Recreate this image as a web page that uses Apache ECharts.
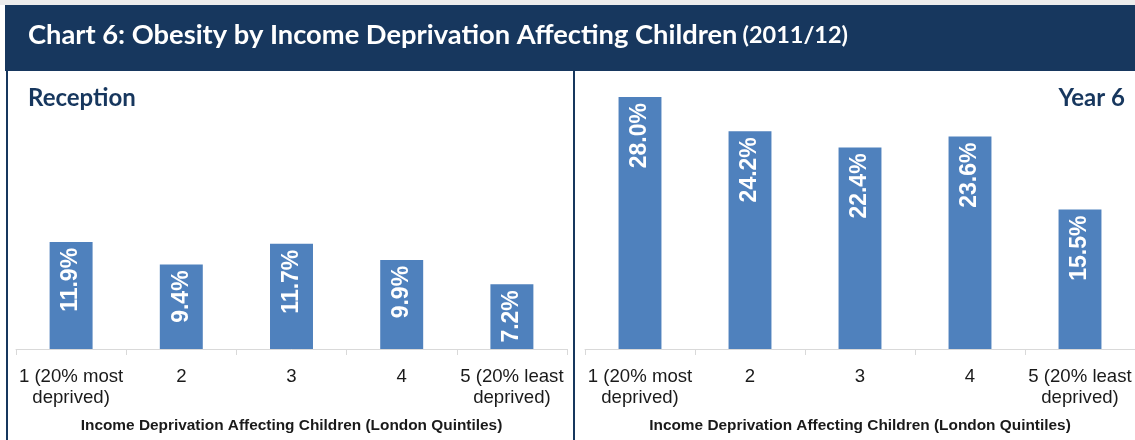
<!DOCTYPE html>
<html>
<head>
<meta charset="utf-8">
<script src="https://cdn.jsdelivr.net/npm/echarts@6/dist/echarts.min.js"></script>
<style>
  html, body { margin: 0; padding: 0; background: #ffffff; }
  #chart { width: 1135px; height: 440px; }
</style>
</head>
<body>
<div id="chart"></div>
<script>
// Income deprivation quintiles (London) and obesity prevalence, 2011/12
const quintiles = ['1 (20% most\ndeprived)', '2', '3', '4', '5 (20% least\ndeprived)'];
const receptionObesity = [11.9, 9.4, 11.7, 9.9, 7.2];
const year6Obesity = [28.0, 24.2, 22.4, 23.6, 15.5];

const chartTitle = 'Chart 6: Obesity by Income Deprivation Affecting Children';
const chartPeriod = '(2011/12)';
const panelNames = ['Reception', 'Year 6'];
const axisTitle = 'Income Deprivation Affecting Children (London Quintiles)';

const NAVY = '#17375E';
const BAR = '#4F81BD';
const AXIS = '#d9d9d9';
const SANS = 'Liberation Sans, Arial, sans-serif';

function xAxisFor(gridIndex) {
  return {
    type: 'category',
    gridIndex: gridIndex,
    data: quintiles,
    name: axisTitle,
    nameLocation: 'middle',
    nameGap: 69,
    nameTextStyle: { fontFamily: SANS, fontWeight: 'bold', fontSize: 15.4, color: '#1a1a1a' },
    axisLine: { lineStyle: { color: AXIS, width: 1 } },
    axisTick: { show: true, length: 6, lineStyle: { color: AXIS } },
    axisLabel: {
      interval: 0,
      margin: 17,
      fontFamily: SANS,
      fontSize: 18.6,
      lineHeight: 21,
      color: '#1a1a1a'
    }
  };
}

function yAxisFor(gridIndex) {
  return {
    type: 'value',
    gridIndex: gridIndex,
    min: 0,
    max: 30,
    show: false,
    splitLine: { show: false }
  };
}

function barSeries(values, index) {
  return {
    type: 'bar',
    xAxisIndex: index,
    yAxisIndex: index,
    data: values,
    barWidth: '39%',
    itemStyle: { color: BAR },
    label: {
      show: true,
      position: 'insideTop',
      distance: 6,
      rotate: 90,
      align: 'right',
      verticalAlign: 'middle',
      formatter: p => p.value.toFixed(1) + '%',
      fontFamily: SANS,
      fontWeight: 'bold',
      fontSize: 23,
      color: '#ffffff'
    }
  };
}

const chart = echarts.init(document.getElementById('chart'), null, { renderer: 'canvas' });

chart.setOption({
  backgroundColor: '#ffffff',
  animation: false,
  title: [
    {
      text: '{main|' + chartTitle + '} {sub|' + chartPeriod + '}',
      left: 28,
      top: 22,
      padding: 0,
      textStyle: {
        rich: {
          main: { fontFamily: 'Lato, sans-serif', fontWeight: 'bold', fontSize: 27.3, color: '#ffffff' },
          sub: { fontFamily: 'Lato, sans-serif', fontWeight: 'bold', fontSize: 23.5, color: '#ffffff' }
        }
      },
      z: 10
    },
    {
      text: panelNames[0],
      left: 28,
      top: 86,
      padding: 0,
      textStyle: { fontFamily: 'Lato, sans-serif', fontWeight: 'bold', fontSize: 24, color: NAVY }
    },
    {
      text: panelNames[1],
      right: 10,
      top: 86,
      padding: 0,
      textStyle: { fontFamily: 'Lato, sans-serif', fontWeight: 'bold', fontSize: 24, color: NAVY }
    }
  ],
  graphic: [
    { type: 'rect', z: -10, shape: { x: 0, y: 0, width: 1135, height: 5 }, style: { fill: '#ececec' } },
    { type: 'rect', z: 0, shape: { x: 5, y: 5, width: 1130, height: 66 }, style: { fill: NAVY } },
    { type: 'rect', z: 0, shape: { x: 6, y: 71, width: 2, height: 369 }, style: { fill: NAVY } },
    { type: 'rect', z: 0, shape: { x: 573, y: 71, width: 2, height: 369 }, style: { fill: NAVY } }
  ],
  grid: [
    { left: 16, top: 79, width: 551, height: 270 },
    { left: 585, top: 79, width: 551, height: 270 }
  ],
  xAxis: [xAxisFor(0), xAxisFor(1)],
  yAxis: [yAxisFor(0), yAxisFor(1)],
  series: [barSeries(receptionObesity, 0), barSeries(year6Obesity, 1)]
});
</script>
</body>
</html>
